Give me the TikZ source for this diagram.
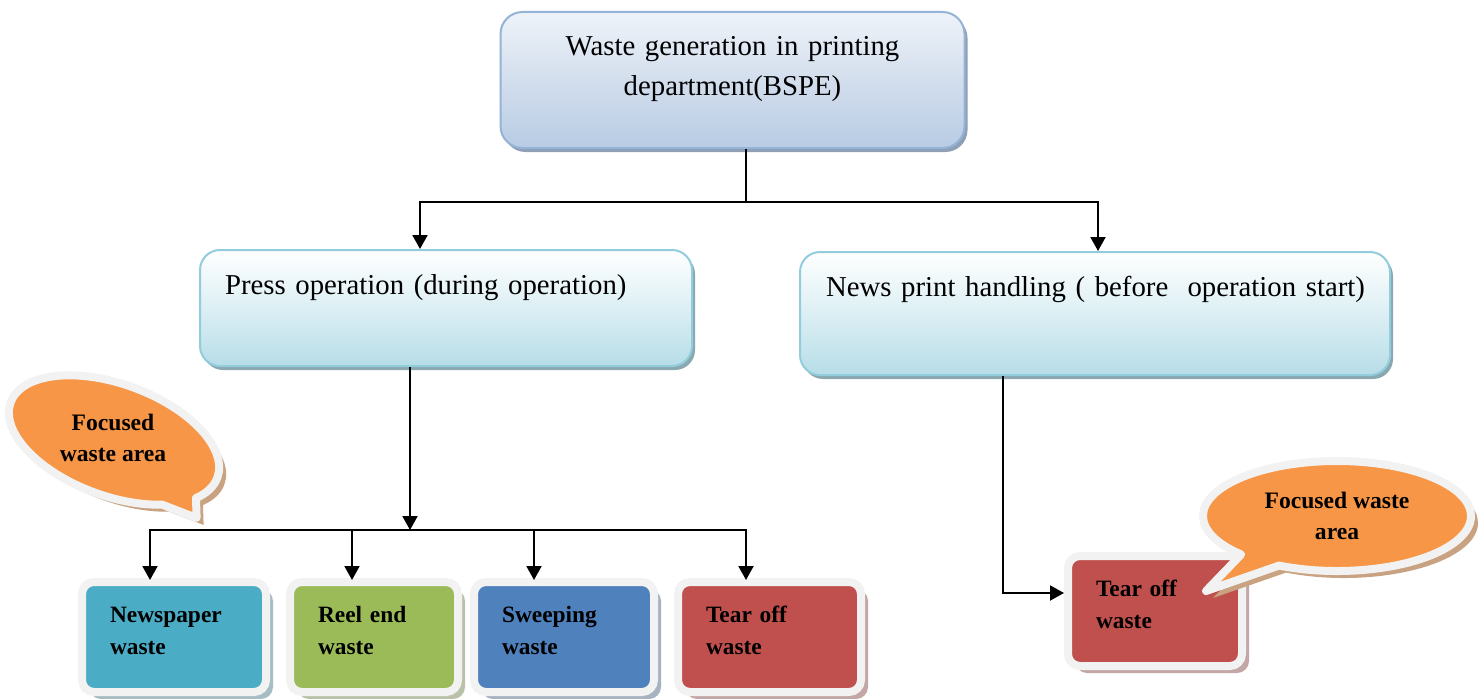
\documentclass[tikz,border=0pt]{standalone}
\usepackage{fontspec}
\setmainfont{Liberation Serif}
\usetikzlibrary{positioning, arrows.meta, shapes.callouts, shadows}
\definecolor{hdrline}{HTML}{95B3D7}
\definecolor{hdrtop}{HTML}{EEF3F9}
\definecolor{hdrmid}{HTML}{D3DEED}
\definecolor{hdrbot}{HTML}{B8CCE4}
\definecolor{hdrshd}{HTML}{8E9FB6}
\definecolor{stgline}{HTML}{92CDDC}
\definecolor{stgmid}{HTML}{DCEFF4}
\definecolor{stgbot}{HTML}{B7DDE8}
\definecolor{stgshd}{HTML}{8AA8B0}
\definecolor{cyanw}{HTML}{4BACC6}
\definecolor{olivew}{HTML}{9BBB59}
\definecolor{bluew}{HTML}{4F81BD}
\definecolor{redw}{HTML}{C0504D}
\definecolor{rim}{HTML}{F2F2F2}
\definecolor{orng}{HTML}{F79646}
\definecolor{bubshd}{HTML}{C9A282}
\tikzset{
  hdr/.style={draw=hdrline, line width=1pt, rounded corners=11pt, top color=hdrtop, bottom color=hdrbot,
              middle color=hdrmid, align=center, inner xsep=7pt, inner ysep=7pt, text height=15pt,
              font=\fontsize{14.4}{20}\selectfont,
              drop shadow={fill=hdrshd, opacity=1, shadow xshift=1.5pt, shadow yshift=-2pt}},
  stage/.style={draw=stgline, line width=1pt, rounded corners=10pt, top color=white, bottom color=stgbot,
                middle color=stgmid, align=left, inner xsep=12.5pt, inner ysep=7pt, text height=15pt,
                font=\fontsize{14.4}{20}\selectfont,
                drop shadow={fill=stgshd, opacity=1, shadow xshift=1.5pt, shadow yshift=-2pt}},
  wbox/.style={draw=rim, line width=4pt, rounded corners=6pt, fill=#1, align=left, inner xsep=14pt,
               inner ysep=12pt, text height=8pt, text depth=23pt, font=\fontsize{11.7}{16}\selectfont\bfseries,
               drop shadow={fill=#1!40!gray!60!white, opacity=1, shadow xshift=3.5pt, shadow yshift=-3.5pt}},
  bub/.style={ellipse callout, draw=rim, line width=4pt, fill=orng, line join=round, inner sep=1pt,
              align=center, font=\fontsize{11.8}{15.5}\selectfont\bfseries,
              drop shadow={fill=bubshd, opacity=1, shadow xshift=3.5pt, shadow yshift=-3.5pt}},
  bubtxt/.style={align=center, inner sep=1pt, font=\fontsize{11.8}{15.5}\selectfont\bfseries},
  lnk/.style={line width=1pt, draw=black},
  arr/.style={lnk, -{Triangle[length=7pt, width=7.5pt]}},
}
\begin{document}
\begin{tikzpicture}[x=0.5pt, y=0.5pt]
        \useasboundingbox (0,0) rectangle (1484,698);
        \node[hdr, text width=218pt, text depth=39pt] (gen) at (732.5,618) {Waste generation in printing\\department(BSPE)};
        \node[stage, text width=221pt, text depth=29pt] (press) at (446,390) {Press operation (during operation)};
        \node[stage, inner xsep=13pt, text width=269pt, text depth=32.5pt] (news) at (1095,384.5) {\mbox{News print handling ( before~ operation start)}};
        \node[wbox=cyanw, text width=64pt] (newsw) at (174,61) {Newspaper\\waste};
        \node[wbox=olivew, text width=56pt] (reel) at (374,61) {Reel end\\waste};
        \node[wbox=bluew, text width=62pt] (sweep) at (564,61) {Sweeping\\waste};
        \node[wbox=redw, text width=63.5pt] (tearA) at (769.5,61) {Tear off\\waste};
        \node[wbox=redw, text width=59pt] (tearB) at (1155,87) {Tear off\\waste};
        \coordinate (split) at (746,496);
        \coordinate (bus) at (410,168);
        \draw[lnk] (split |- gen.south) -- (split);
        \draw[arr] (split) -| ([xshift=-13pt]press.north);
        \draw[arr] (split) -| ([xshift=1.5pt]news.north);
        \draw[arr] ([xshift=-18pt]press.south) -- (bus);
        \draw[arr] (bus) -| ([xshift=-12pt, yshift=-1pt]newsw.north);
        \draw[arr] (bus) -| ([xshift=-11pt, yshift=-1pt]reel.north);
        \draw[arr] (bus) -| ([xshift=-15pt, yshift=-1pt]sweep.north);
        \draw[arr] (bus) -| ([xshift=-11.75pt, yshift=-1pt]tearA.north);
        \draw[arr] ([xshift=-46pt]news.south) |- ([yshift=9pt]tearB.west);
        \node[bub, rotate=-20, minimum width=110pt, minimum height=56pt, callout pointer arc=24, callout relative pointer={(10.2pt,-4.4pt)}] (focusA) at (114,258) {};
        \node[bubtxt] (focusAtxt) at (113,260) {Focused\\waste area};
        \node[bub, minimum width=134pt, minimum height=55pt, callout pointer arc=20, callout absolute pointer={(1206,107)}] (focusB) at (1337,182) {Focused waste\\area};
      \end{tikzpicture}
\end{document}
